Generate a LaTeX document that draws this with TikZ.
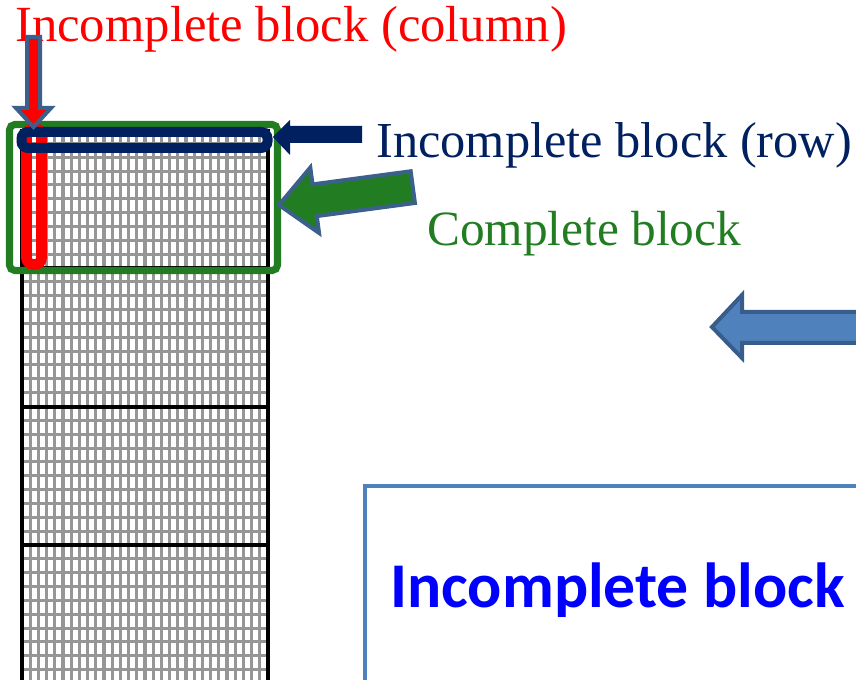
\documentclass[tikz,border=0pt]{standalone}
\usepackage{fontspec}
\setmainfont{Liberation Serif}
\newfontfamily\calib{Carlito}
\usetikzlibrary{positioning}
\definecolor{redcol}{RGB}{255,0,0}
\definecolor{navyrow}{RGB}{0,32,96}
\definecolor{greenblk}{RGB}{34,125,34}
\definecolor{steelline}{RGB}{60,96,140}
\definecolor{boxblue}{RGB}{79,129,189}
\definecolor{boxline}{RGB}{56,93,138}

\begin{document}
\begin{tikzpicture}[x=0.75pt, y=-0.75pt]
\tikzset{
    gridline/.style={draw={rgb,255:red,150;green,150;blue,150}, line width=2.3pt},
    blockline/.style={draw=black, line width=2.4pt},
    mylabel/.style={anchor=base west, inner sep=0pt},
    bigarrow/.style={line width=3pt, line join=miter}
}
\useasboundingbox (0,0) rectangle (856,680);

% the column of blocks, with its fine grid
\begin{scope}
\clip (22,129) rectangle (268,680);
\foreach \i in {0,...,30}
    \draw[gridline] (22+\i*8.2,129) -- (22+\i*8.2,680);
\foreach \j in {0,...,40}
    \draw[gridline] (22,129.5+\j*13.85) -- (268,129.5+\j*13.85);
\end{scope}
\foreach \y in {268,407,545}
    \draw[blockline] (22,\y) -- (268,\y);
\draw[blockline] (22,129) -- (22,680);
\draw[blockline] (268,129) -- (268,680);

% the three marked blocks
\draw[draw=greenblk, line width=5.3pt, rounded corners=4pt] (9.5,124.5) rectangle (277.5,270.5);
\draw[draw=redcol, line width=8pt, rounded corners=5pt] (26.5,128.5) rectangle (41.5,264.5);
\draw[draw=navyrow, line width=7.5pt, rounded corners=5pt] (21.5,132) rectangle (267.5,148);

% labels
\node[mylabel, text=redcol, font=\fontsize{38}{40}\selectfont] (column) at (15,42) {Incomplete block (column)};
\node[mylabel, text=navyrow, font=\fontsize{37.8}{40}\selectfont] (row) at (376,158) {Incomplete block (row)};
\node[mylabel, text=greenblk, font=\fontsize{37}{40}\selectfont] (complete) at (427,246) {Complete block};

% arrows to the blocks
\draw[bigarrow, draw=steelline, fill=redcol] (27,37) -- (40,37) -- (40,108) -- (51,108)
    -- (33.5,127) -- (16,108) -- (27,108) -- cycle;
\fill[navyrow] (273,137) -- (290,120) -- (290,126) -- (362,126) -- (362,143)
    -- (290,143) -- (290,155) -- cycle;
\begin{scope}[shift={(279,205)}, rotate=7.6]
\draw[bigarrow, draw=steelline, fill=greenblk] (0,0) -- (36,-33) -- (36,-16) -- (135,-16)
    -- (135,16) -- (36,16) -- (36,33) -- cycle;
\end{scope}
\draw[bigarrow, draw=boxline, fill=boxblue] (712,327) -- (742,295) -- (742,312) -- (870,312)
    -- (870,343) -- (742,343) -- (742,358) -- cycle;

% the box on the lower right
\draw[draw=boxblue, line width=2.6pt] (365,690) -- (365,486) -- (870,486);
\node[anchor=base west, inner sep=0pt, text=blue, font=\calib\bfseries\fontsize{47.8}{50}\selectfont]
    (incomplete) at (390,607) {Incomplete block};
\end{tikzpicture}
\end{document}
